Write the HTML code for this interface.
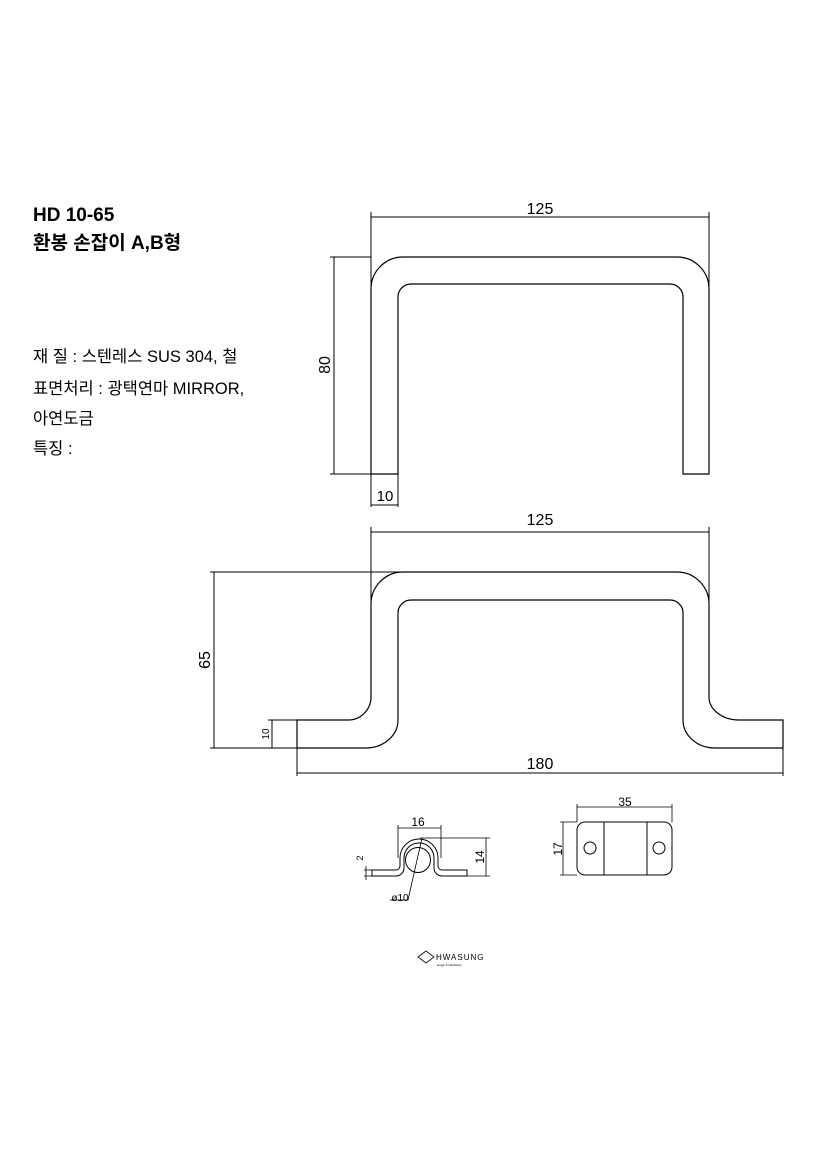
<!DOCTYPE html>
<html><head><meta charset="utf-8"><style>
html,body{margin:0;padding:0;background:#fff}
svg{display:block}
text{font-family:"Liberation Sans","Noto Sans CJK KR",sans-serif;fill:#000}
</style></head><body>
<svg width="827" height="1169" viewBox="0 0 827 1169" xmlns="http://www.w3.org/2000/svg">
<g font-size="19" font-weight="bold">
<text x="33" y="221">HD 10-65</text>
<text x="33" y="249">환봉 손잡이 A,B형</text>
</g>
<g font-size="16.5">
<text x="33" y="362">재 질 : 스텐레스 SUS 304, 철</text>
<text x="33" y="394">표면처리 : 광택연마 MIRROR,</text>
<text x="33" y="424">아연도금</text>
<text x="33" y="454">특징 :</text>
</g>
<g fill="none" stroke="#000" stroke-width="1.2">
<path d="M371 474 V289 A32 32 0 0 1 403 257 H677 A32 32 0 0 1 709 289 V474 H683 V297 A13 13 0 0 0 670 284 H411 A13 13 0 0 0 398 297 V474 Z"/>
<path d="M371 217 H709 M371 212 V289 M709 212 V292" stroke-width="1"/>
<path d="M334 257 V474 M330 257 H371 M330 474 H371" stroke-width="1"/>
<path d="M371 474 V507 M398 474 V507 M371 505 H398" stroke-width="1"/>
<path d="M297 720 V748 H366 A32 28 0 0 0 398 720 V613 A13 13 0 0 1 411 600 H670 A13 13 0 0 1 683 613 V720 A32 28 0 0 0 715 748 H783 V720 H739 A30 23 0 0 1 709 697 V604 A32 32 0 0 0 677 572 H403 A32 32 0 0 0 371 604 V697 A23 23 0 0 1 348 720 Z"/>
<path d="M371 532 H709 M371 527 V604 M709 527 V604" stroke-width="1"/>
<path d="M214 572 V748 M210 572 H403 M210 748 H297" stroke-width="1"/>
<path d="M272 720 V748 M268 720 H297" stroke-width="1"/>
<path d="M297 748 V776 M783 748 V776 M297 773 H783" stroke-width="1"/>
<path d="M372 870 H396 A4 4 0 0 0 400 866 V858 A19 19 0 0 1 438 858 V866 A4 4 0 0 0 442 870 H467 V876 H442 A8 8 0 0 1 434 868 V858 A15 15 0 0 0 404 858 V868 A8 8 0 0 1 396 876 H372 Z" stroke-width="1"/>
<circle cx="418" cy="860" r="12.5" stroke-width="1"/>
<path d="M398 858 V825 M441 858 V825 M398 828 H441" stroke-width="0.8"/>
<path d="M420 838 H490 M467 876 H490 M486 838 V876" stroke-width="0.8"/>
<path d="M364 870 H372 M364 876 H372 M366 866 V880" stroke-width="0.8"/>
<path d="M422 838 L408 900 H390" stroke-width="0.8"/>
<rect x="577" y="822" width="95" height="53" rx="8" stroke-width="1"/>
<path d="M604 822 V875 M647 822 V875" stroke-width="1"/>
<circle cx="590" cy="848" r="6" stroke-width="1"/>
<circle cx="659" cy="848" r="6" stroke-width="1"/>
<path d="M577 804 V822 M672 804 V822 M577 807 H672" stroke-width="0.8"/>
<path d="M560 822 H577 M560 875 H577 M563 822 V875" stroke-width="0.8"/>
<path d="M418 957 L426 951 L434 957 L426 963 Z" stroke-width="0.8"/>
</g>
<g font-size="16" text-anchor="middle">
<text x="540" y="214">125</text>
<text x="540" y="525">125</text>
<text x="540" y="769">180</text>
<text x="385" y="501" font-size="15">10</text>
<text transform="translate(330,365) rotate(-90)">80</text>
<text transform="translate(210,660) rotate(-90)">65</text>
<text transform="translate(269,734) rotate(-90)" font-size="10">10</text>
</g>
<g font-size="12" text-anchor="middle">
<text x="418" y="826">16</text>
<text x="625" y="806">35</text>
<text transform="translate(484,857) rotate(-90)">14</text>
<text transform="translate(562,849) rotate(-90)">17</text>
<text transform="translate(363,858) rotate(-90)" font-size="9">2</text>
<text x="400" y="901" font-size="10">ø10</text>
</g>
<text x="436" y="960" font-size="8" letter-spacing="1">HWASUNG</text>
<text x="437" y="966" font-size="3">Hinge &amp; Hardware</text>
</svg>
</body></html>
